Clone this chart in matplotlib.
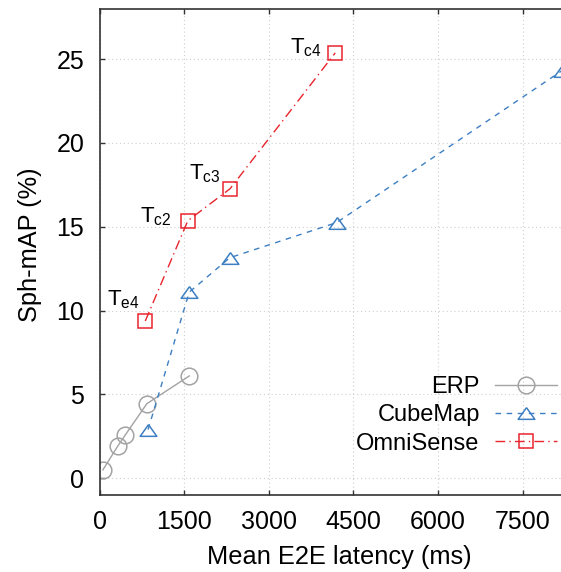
import numpy as np
import matplotlib
matplotlib.use('Agg')
import matplotlib.pyplot as plt

plt.rcParams['font.family'] = ['Liberation Sans', 'DejaVu Sans']
plt.rcParams['mathtext.default'] = 'regular'

# data
erp_x = [60, 320, 460, 840, 1590]
erp_y = [0.5, 1.9, 2.6, 4.45, 6.1]
cube_x = [860, 1590, 2307, 4203, 8190]
cube_y = [2.9, 11.1, 13.15, 15.25, 24.3]
omni_x = [811, 1565, 2314, 4177]
omni_y = [9.38, 15.36, 17.27, 25.37]
omni_labels = ['T$_{e4}$', 'T$_{c2}$', 'T$_{c3}$', 'T$_{c4}$']
label_offsets = [(-6, 16), (-16, -2), (-10, 9), (-14, 0)]

xticks = [0, 1500, 3000, 4500, 6000, 7500]
yticks = [0, 5, 10, 15, 20, 25]

c_erp = '#a3a3a3'
c_cube = '#3d7fc2'
c_omni = '#e8242c'
tri = [(0, 0.7), (-1, -0.7), (1, -0.7), (0, 0.7)]

fig = plt.figure(figsize=(5.61, 5.72), dpi=100)
ax = fig.add_axes([0.1774, 0.1346, 0.855, 0.85])

ax.plot(erp_x, erp_y, color=c_erp, lw=1.0, ls='-', marker='o', ms=12,
        mfc='none', mec=c_erp, mew=1.1, label='ERP')
ax.plot(cube_x, cube_y, color=c_cube, lw=1.0, ls=(0, (4, 4)), marker=tri, ms=12,
        mfc='none', mec=c_cube, mew=1.1, label='CubeMap')
ax.plot(omni_x, omni_y, color=c_omni, lw=1.0, ls=(0, (7, 3, 1, 3)), marker='s', ms=9.6,
        mfc='none', mec=c_omni, mew=1.1, label='OmniSense')

for x, y, t, off in zip(omni_x, omni_y, omni_labels, label_offsets):
    ax.annotate(t, (x, y), xytext=off, textcoords='offset pixels',
                ha='right', va='baseline', fontsize=16)

ax.set_xlim(0, 8500)
ax.set_ylim(-1, 28)
ax.set_xticks(xticks)
ax.set_yticks(yticks)
ax.grid(True, color='#cfcfcf', ls=(0, (1, 2.5)), lw=0.8)
ax.tick_params(direction='in', top=True, right=True, length=3.6, width=1,
               color='#333333', labelsize=18)
ax.tick_params(axis='y', pad=11)
ax.tick_params(axis='x', pad=10.5)
for s in ax.spines.values():
    s.set_color('#333333')
    s.set_linewidth(1.2)

ax.set_xlabel('Mean E2E latency (ms)', fontsize=18.3, labelpad=8)
ax.set_ylabel('Sph-mAP (%)', fontsize=18.3)
ax.yaxis.set_label_coords(-0.119, 0.515)

ax.legend(loc='upper right', bbox_to_anchor=(0.9923, 0.343),
          bbox_transform=fig.transFigure, frameon=False, markerfirst=False,
          fontsize=17, handlelength=2.6, handletextpad=0.66,
          labelspacing=0.27, borderpad=0, borderaxespad=0)

fig.savefig('out.png', dpi=100)
